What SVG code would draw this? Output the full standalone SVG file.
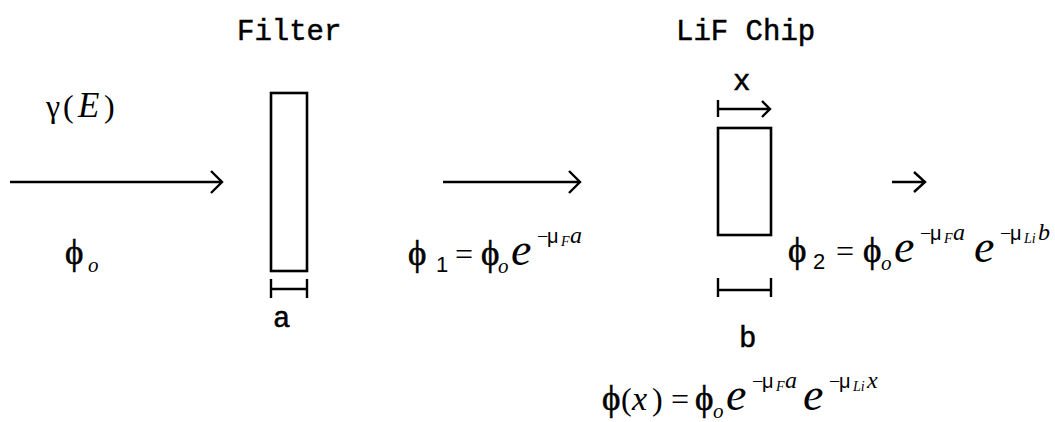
<svg xmlns="http://www.w3.org/2000/svg" width="1055" height="422" viewBox="0 0 1055 422">
<style>
.mono{font-family:"Liberation Mono","DejaVu Sans Mono",monospace;font-size:29px;fill:#000;stroke:#000;stroke-width:0.5}
.m{font-family:"Liberation Serif","DejaVu Serif",serif;fill:#000}
.phi{font-size:35px;stroke:#000;stroke-width:0.6}
.it{font-style:italic}
.e{font-size:46px;font-style:italic}
.sub{font-family:"Liberation Sans","DejaVu Sans",sans-serif;font-size:22px}
.mu{font-family:"Liberation Sans","DejaVu Sans",sans-serif;font-size:20px}
.tiny{font-size:14px;font-style:italic}
.ex{font-size:24px;font-style:italic}
.ln{stroke:#000;stroke-width:2.4;fill:none}
.box{stroke:#000;stroke-width:2.6;fill:#fff}
</style>
<rect width="1055" height="422" fill="#fff"/>
<g id="labels">
<text class="mono" x="237" y="40">Filter</text>
<text class="mono" x="676" y="40">LiF Chip</text>
<text class="m" x="46" y="117" font-size="32"><tspan>γ</tspan><tspan x="63">(</tspan><tspan x="78" font-size="35" font-style="italic">E</tspan><tspan x="104">)</tspan></text>
<text class="mono" x="273" y="327">a</text>
<text class="mono" x="739" y="347">b</text>
<text class="mono" x="733" y="90">x</text>
</g>
<g id="filter">
<rect class="box" x="271" y="93" width="36" height="178"/>
<path class="ln" d="M271,279 V298 M307,279 V298 M271,289 H307"/>
</g>
<g id="chip">
<rect class="box" x="718" y="128" width="53" height="107"/>
<path class="ln" d="M718,100 V117 M718,109 H770 M762,101 L770,109 L762,117"/>
<path class="ln" d="M718,278 V297 M771,278 V297 M718,290 H771"/>
</g>
<g id="connectors">
<path class="ln" d="M10,182 H221 M211,171 L222,182 L211,193"/>
<path class="ln" d="M443,182 H579 M569,171 L580,182 L569,193"/>
<path class="ln" d="M892,182 H924 M914,172 L925,182 L914,192"/>
</g>
<g id="phi0">
<text class="m"><tspan class="phi" x="65" y="264">ϕ</tspan><tspan class="it" font-size="21" x="88" y="272">o</tspan></text>
</g>
<g id="phi1">
<text class="m"><tspan class="phi" x="408" y="265">ϕ</tspan><tspan class="sub" x="436" y="272">1</tspan><tspan font-size="32" x="455" y="265">=</tspan><tspan class="phi" x="481" y="265">ϕ</tspan><tspan class="it" font-size="21" x="498" y="273">o</tspan><tspan class="e" x="511" y="265">e</tspan><tspan font-size="20" x="537" y="243">−</tspan><tspan class="mu" x="547" y="243">μ</tspan><tspan class="tiny" x="561" y="246">F</tspan><tspan class="ex" x="570" y="243">a</tspan></text>
</g>
<g id="phi2">
<text class="m"><tspan class="phi" x="788" y="262">ϕ</tspan><tspan class="sub" x="813" y="269">2</tspan><tspan font-size="32" x="836" y="262">=</tspan><tspan class="phi" x="863" y="262">ϕ</tspan><tspan class="it" font-size="21" x="881" y="270">o</tspan><tspan class="e" x="894" y="262">e</tspan><tspan font-size="20" x="920" y="240">−</tspan><tspan class="mu" x="930" y="240">μ</tspan><tspan class="tiny" x="944" y="243">F</tspan><tspan class="ex" x="953" y="240">a</tspan><tspan class="e" x="974" y="262">e</tspan><tspan font-size="20" x="1000" y="240">−</tspan><tspan class="mu" x="1010" y="240">μ</tspan><tspan class="tiny" x="1024" y="243">Li</tspan><tspan class="ex" x="1038" y="240">b</tspan></text>
</g>
<g id="phix">
<text class="m"><tspan class="phi" x="602" y="410">ϕ</tspan><tspan font-size="32" x="621" y="410">(</tspan><tspan class="it" font-size="34" x="632" y="410">x</tspan><tspan font-size="32" x="652" y="410">)</tspan><tspan font-size="32" x="671" y="410">=</tspan><tspan class="phi" x="695" y="410">ϕ</tspan><tspan class="it" font-size="21" x="713" y="418">o</tspan><tspan class="e" x="726" y="410">e</tspan><tspan font-size="20" x="752" y="388">−</tspan><tspan class="mu" x="762" y="388">μ</tspan><tspan class="tiny" x="776" y="391">F</tspan><tspan class="ex" x="785" y="388">a</tspan><tspan class="e" x="803" y="410">e</tspan><tspan font-size="20" x="829" y="388">−</tspan><tspan class="mu" x="839" y="388">μ</tspan><tspan class="tiny" x="853" y="391">Li</tspan><tspan class="ex" x="867" y="388">x</tspan></text>
</g>
</svg>
